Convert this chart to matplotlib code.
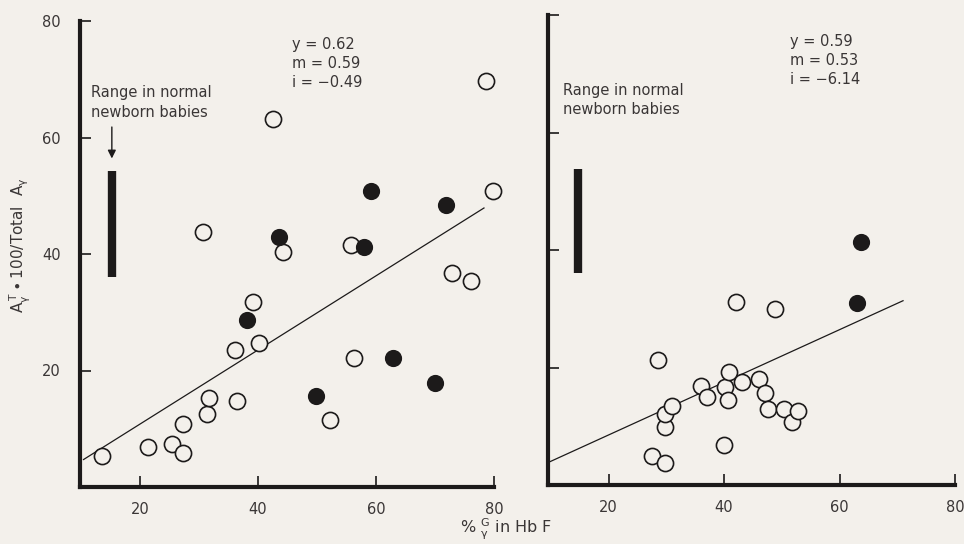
import matplotlib; matplotlib.use('Agg')
import matplotlib.pyplot as plt
import numpy as np

# left panel (open = circles, fill = solid dots)
left_open_x = [13.5, 21.4, 25.4, 27.3, 27.3, 31.4, 31.7, 30.7, 36.1, 36.5, 39.1,
               40.1, 42.6, 44.2, 52.2, 55.8, 56.3, 72.8, 76.1, 78.6, 79.8]
left_open_y = [5.3, 6.9, 7.4, 5.9, 10.8, 12.5, 15.3, 43.7, 23.5, 14.7, 31.8,
               24.7, 63.2, 40.4, 11.5, 41.6, 22.2, 36.8, 35.3, 69.7, 50.9]
left_fill_x = [38.2, 43.6, 49.9, 58.0, 59.2, 62.8, 70.0, 71.8]
left_fill_y = [28.6, 42.9, 15.7, 41.2, 50.9, 22.1, 17.9, 48.4]

# right panel
right_open_x = [28.6, 27.5, 29.7, 29.7, 29.7, 31.0, 36.0, 37.0, 40.1, 40.0, 40.8,
                40.7, 42.0, 43.1, 46.1, 47.1, 47.6, 48.9, 50.3, 51.7, 52.8]
right_open_y = [21.3, 4.9, 3.8, 9.9, 12.1, 13.5, 16.9, 14.9, 16.7, 6.8, 19.2,
                14.4, 31.2, 17.5, 18.0, 15.7, 12.9, 30.0, 12.9, 10.8, 12.6]
right_fill_x = [63.8, 63.0]
right_fill_y = [41.4, 30.9]

# fitted lines as drawn (slope, intercept, x range)
left_fit = (0.636, -1.9, 10.4, 78.3)
right_fit = (0.448, -0.44, 9.9, 71.0)

# normal newborn range (x position, low, high)
left_range = (15.2, 36.1, 54.2)
right_range = (14.7, 36.1, 53.8)

left_stats = ['y = 0.62', 'm = 0.59', 'i = \u22120.49']
right_stats = ['y = 0.59', 'm = 0.53', 'i = \u22126.14']

ticks = [20, 40, 60, 80]

BG = '#f3f0eb'
INK = '#1c1a1a'
TXT = '#3a3636'

plt.rcParams['font.family'] = 'DejaVu Sans'
fig = plt.figure(figsize=(9.64, 5.44), dpi=100)
fig.patch.set_facecolor(BG)

axL = fig.add_axes([80/964, 1-487/544, 414/964, 466/544])
axR = fig.add_axes([548/964, 1-485/544, 407/964, 470/544])


def panel(ax, ox, oy, fx, fy, fit, rng, stats, stats_xy, text_xy, xmin, arrow):
    ax.set_facecolor(BG)
    ax.set_xlim(xmin, 80)
    ax.set_ylim(0, 80)
    for s in ['top', 'right']:
        ax.spines[s].set_visible(False)
    for s in ['left', 'bottom']:
        ax.spines[s].set_linewidth(3)
        ax.spines[s].set_color(INK)
    ax.set_xticks(ticks)
    ax.set_yticks(ticks)
    ax.tick_params(direction='in', length=8, width=1.2, color=INK,
                   labelsize=10.5, labelcolor=TXT)
    ax.tick_params(axis='x', pad=11)
    ax.tick_params(axis='y', pad=14)

    m, b, x0, x1 = fit
    xs = np.array([x0, x1])
    ax.plot(xs, m * xs + b, color=INK, lw=0.9, zorder=2)

    ax.scatter(ox, oy, s=135, facecolor=BG, edgecolor=INK, linewidths=1.2, zorder=3, clip_on=False)
    ax.scatter(fx, fy, s=125, facecolor=INK, edgecolor=INK, linewidths=1.2, zorder=3, clip_on=False)

    rx, lo, hi = rng
    ax.plot([rx, rx], [lo, hi], color=INK, lw=6, solid_capstyle='butt', zorder=2)

    for i, t in enumerate(stats):
        ax.text(stats_xy[0], stats_xy[1] - i * 3.2, t, fontsize=10.5,
                color=TXT, ha='left', va='center')
    ax.text(text_xy[0], text_xy[1], 'Range in normal\nnewborn babies', fontsize=10.5,
            color=TXT, ha='left', va='center', linespacing=1.35)
    if arrow:
        ax.annotate('', xy=(rx, 56.4), xytext=(rx, 61.8),
                    arrowprops=dict(arrowstyle='-|>', color=INK, lw=1.0,
                                    mutation_scale=12, shrinkA=0, shrinkB=0))


panel(axL, left_open_x, left_open_y, left_fill_x, left_fill_y, left_fit, left_range,
      left_stats, (45.8, 75.9), (11.7, 66.0), 9.8, True)
panel(axR, right_open_x, right_open_y, right_fill_x, right_fill_y, right_fit, right_range,
      right_stats, (51.4, 75.5), (12.1, 65.5), 9.5, False)
axR.set_yticklabels([])

fig.text(20/964, 1-245/544,
         r'$\mathregular{A_{\gamma}^{\,T}\bullet100/Total\ \ A_{\gamma}}$',
         rotation=90, ha='center', va='center', fontsize=11, color=TXT)
fig.text(506/964, 1-529/544, r'% $\mathregular{^{G}_{\gamma}}$ in Hb F',
         ha='center', va='center', fontsize=11.5, color=TXT)

plt.savefig('out.png', dpi=100, facecolor=BG)
